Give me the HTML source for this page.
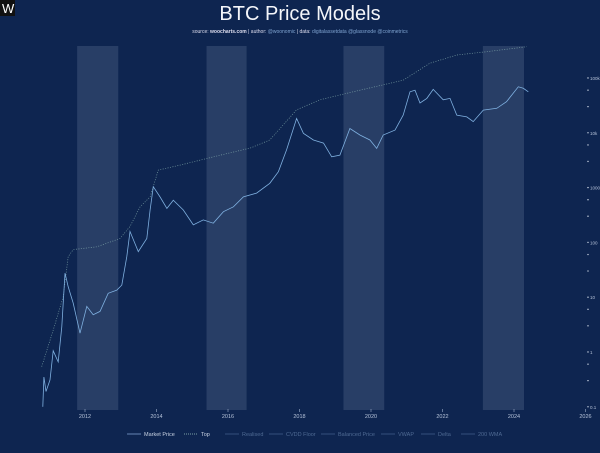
<!DOCTYPE html>
<html><head><meta charset="utf-8"><style>
html,body{margin:0;padding:0;background:#0e2550;}
body{width:600px;height:448px;overflow:hidden;font-family:"Liberation Sans",sans-serif;}
</style></head><body>
<svg id="c" width="600" height="448" viewBox="0 0 600 448" xmlns="http://www.w3.org/2000/svg">
<rect x="0" y="0" width="600" height="448" fill="#0e2550"/>
<rect x="0" y="0" width="15" height="16" fill="#111"/>
<text x="2" y="13" font-size="13" fill="#fff">W</text>
<text x="300" y="20" font-size="20" fill="#f4f6fa" text-anchor="middle">BTC Price Models</text>
<text x="300" y="33" font-size="5" fill="#dde" text-anchor="middle">source: <tspan font-weight="bold">woocharts.com</tspan> | author: <tspan fill="#7fa3d0">@woonomic</tspan> | data: <tspan fill="#7fa3d0">digitalassetdata @glassnode @coinmetrics</tspan></text>
<g id="bands"></g><g id="axes"></g><g id="series"></g><g id="legend"></g>
</svg>
<script>
const halvingBands = [[2011.78, 2012.93], [2015.4, 2016.52], [2019.23, 2020.37], [2023.13, 2024.28]];
const xTicks = [2012, 2014, 2016, 2018, 2020, 2022, 2024, 2026];
const yTicks = [0.1, 1, 10, 100, 1000, 10000, 100000];
const yTickLabels = ["0.1", "1", "10", "100", "1000", "10k", "100k"];
const priceYears = [2010.82,2010.85,2010.91,2011.02,2011.11,2011.25,2011.35,2011.44,2011.53,2011.67,2011.86,2012.05,2012.23,2012.42,2012.65,2012.89,2013.03,2013.17,2013.26,2013.49,2013.73,2013.82,2013.91,2014.10,2014.29,2014.47,2014.75,2015.03,2015.31,2015.59,2015.87,2016.15,2016.43,2016.80,2017.17,2017.41,2017.64,2017.92,2018.11,2018.39,2018.67,2018.90,2019.13,2019.41,2019.69,2019.97,2020.16,2020.34,2020.67,2020.90,2021.09,2021.23,2021.37,2021.56,2021.74,2022.02,2022.21,2022.40,2022.68,2022.86,2023.14,2023.52,2023.79,2024.12,2024.26,2024.40];
const priceValues = [0.1,0.35,0.19,0.31,1.05,0.66,2.9,27.5,15.5,7.8,2.2,6.8,4.8,5.5,11.8,13.5,16.6,55,158,68,118,390,1040,675,417,590,390,209,257,224,363,447,676,794,1200,1950,4900,18200,9800,7400,6500,3650,3900,12000,9100,7400,5200,9100,11200,21000,56000,60000,35000,42500,62000,40000,42500,21000,19500,16000,26000,28000,37000,69000,65000,56000];
const topYears = [2010.79,2011.11,2011.39,2011.53,2011.67,2012.33,2012.98,2013.26,2013.54,2013.82,2014.05,2014.66,2015.78,2016.62,2017.17,2017.92,2018.57,2019.50,2020.90,2021.65,2022.40,2023.24,2024.36];
const topValues = [0.54,2.5,10.2,55,74,83,118,195,447,676,2090,2570,3900,5250,7400,26300,40000,56000,91000,186000,263000,302000,372000];
const legendLabels = ["Market Price","Top","Realised","CVDD Floor","Balanced Price","VWAP","Delta","200 WMA"];

const NS = "http://www.w3.org/2000/svg";
const X = t => 85 + 35.75 * (t - 2012);
const Y = p => 78 + 54.8 * (5 - Math.log10(p));
function mk(tag, attrs, parent){const e=document.createElementNS(NS,tag);for(const k in attrs)e.setAttribute(k,attrs[k]);parent.appendChild(e);return e;}

const bands=document.getElementById('bands');
halvingBands.forEach((b,i)=>{
  const r=mk('rect',{x:X(b[0]),y:46,width:X(b[1])-X(b[0]),height:364,fill:'#8a9bb5','fill-opacity':0.22},bands);
  
  
});

const axes=document.getElementById('axes');
xTicks.forEach(t=>{
  const l=mk('line',{x1:X(t),x2:X(t),y1:409,y2:412,stroke:'#9fb0cc','stroke-width':0.6},axes);
  
  
  const tx=mk('text',{x:X(t),y:418,'font-size':5.5,fill:'#b5c2d8','text-anchor':'middle'},axes);
  tx.textContent=t;
  
  
});
yTicks.forEach((v,i)=>{
  const y=Y(v);
  const tx=mk('text',{x:590,y:y+2,'font-size':4.5,fill:'#b5c2d8'},axes);
  tx.textContent=yTickLabels[i];
  
  
  const d=mk('circle',{cx:588,cy:y,r:0.7,fill:'#cfd8e6'},axes);
  
  
  if(i<yTicks.length-1){[3,6].forEach(m=>{
    const c=mk('circle',{cx:588,cy:Y(v*m),r:0.7,fill:'#cfd8e6'},axes);
    
    
  });}
});

const series=document.getElementById('series');
function pathOf(xs,vs){return xs.map((t,i)=>(i?'L':'M')+X(t).toFixed(1)+' '+Y(vs[i]).toFixed(1)).join(' ');}
const topLine=mk('path',{d:pathOf(topYears,topValues),fill:'none',stroke:'#8fb8b4','stroke-width':0.7,'stroke-opacity':0.8,'stroke-dasharray':'1 1.5'},series);


const priceLine=mk('path',{d:pathOf(priceYears,priceValues),fill:'none',stroke:'#7fb0e0','stroke-width':0.8},series);



const legend=document.getElementById('legend');
const lx=[127,184,225,269,321,381,421,461];
legendLabels.forEach((lab,i)=>{
  const g=mk('g',{},legend);
  
  
  const col=i==0?'#7f9fcf':(i==1?'#9fc6c0':'#3f5c88');
  mk('line',{x1:lx[i],x2:lx[i]+14,y1:434,y2:434,stroke:col,'stroke-width':0.8,'stroke-dasharray':i==1?'1 1':'none'},g);
  const t=mk('text',{x:lx[i]+17,y:436,'font-size':5.5,fill:i<2?'#c9d3e3':'#4f6a93'},g);
  t.textContent=lab;
});
</script>
</body></html>
